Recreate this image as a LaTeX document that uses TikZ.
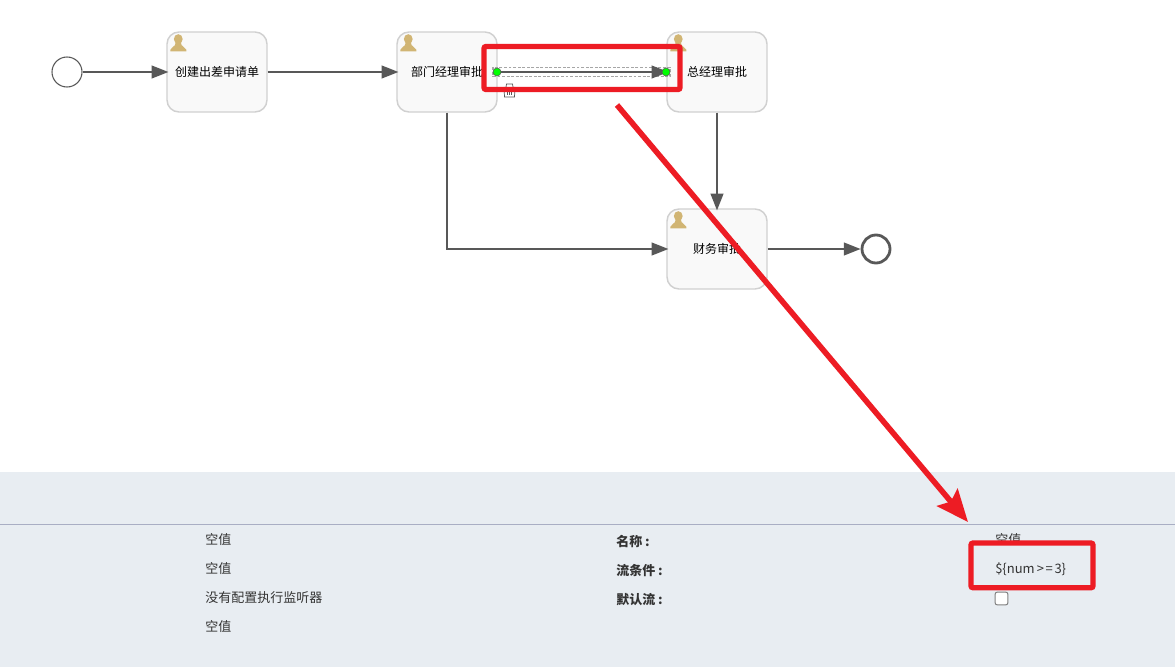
\documentclass[tikz,border=0pt]{standalone}
\usepackage{fontspec}
\setmainfont{Noto Sans CJK SC}
\usetikzlibrary{arrows.meta,calc}
\definecolor{flowgray}{HTML}{585858}
\definecolor{panelbg}{HTML}{E8EDF2}
\definecolor{panelline}{HTML}{A9AEC4}
\definecolor{markred}{HTML}{ED1C24}
\definecolor{iconbrown}{HTML}{D1B574}
\definecolor{taskfill}{HTML}{F9F9F9}
\definecolor{taskline}{HTML}{D0D0D0}
\definecolor{textdark}{HTML}{333333}
\newcommand{\tasktext}[1]{\raisebox{-1.4pt}{#1}}
\tikzset{
  x=0.75pt,y=-0.75pt,
  task/.style={draw=taskline,line width=1.1pt,fill=taskfill,rounded corners=9pt,minimum width=75pt,minimum height=60pt,inner sep=0pt,font=\fontsize{9pt}{11pt}\selectfont,text=black},
  startev/.style={circle,draw=flowgray,line width=0.8pt,fill=white,minimum size=22.5pt,inner sep=0pt},
  endev/.style={circle,draw=flowgray,line width=2.1pt,fill=white,minimum size=21pt,inner sep=0pt},
  flow/.style={draw=flowgray,line width=1.4pt,-{Triangle[length=12.5pt,width=9.5pt]}},
  flowin/.style={flow,shorten >=-1.6pt},
  handle/.style={circle,draw=flowgray,line width=0.4pt,fill=green,minimum size=6pt,inner sep=0pt},
  selbox/.style={draw=black!35,line width=0.9pt,dash pattern=on 2.2pt off 1.2pt,inner sep=0pt},
  panellabel/.style={anchor=west,inner sep=0pt,font=\fontsize{9.75pt}{11pt}\selectfont,text=textdark},
  boldlabel/.style={panellabel,font=\fontsize{9.75pt}{11pt}\bfseries\selectfont},
  markbox/.style={draw=markred,line width=4pt,rounded corners=1.5pt,inner sep=0pt},
  person/.pic={
    \fill[iconbrown] (0,-4.2) ellipse [x radius=4.4,y radius=4.9];
    \fill[iconbrown] (-8,8) -- (-8,6.5) .. controls (-7,3.5) and (-3,3.8) .. (-2.6,-0.5) -- (2.6,-0.5) .. controls (3,3.8) and (7,3.5) .. (8,6.5) -- (8,8) -- cycle;
  },
}
\begin{document}
\begin{tikzpicture}
\useasboundingbox (0,0) rectangle (1175,667);
\fill[white] (0,0) rectangle (1175,667);
\fill[panelbg] (0,472) rectangle (1175,667);
\draw[panelline,line width=0.75pt] (0,524) -- (1175,524);

\node[startev] (start) at (67,72) {};
\node[task] (t1) at (217,72) {\tasktext{创建出差申请单}};
\node[task] (t2) at (447,72) {\tasktext{部门经理审批}};
\node[task] (t3) at (717,72) {\tasktext{总经理审批}};
\node[task] (t4) at (717,249) {\tasktext{财务审批}};
\node[endev] (end) at (876,249) {};

\foreach \p in {t1,t2,t3,t4}{
  \pic at ($(\p.north west)+(12,12)$) {person};
}

\node[selbox,minimum width=132.75pt,minimum height=6.75pt] (sel) at (581.5,72) {};
\draw[flowin] (start) -- (t1);
\draw[flowin] (t1) -- (t2);
\draw[flowin] (t2) -- (t3);
\draw[flowin] (t3) -- (t4);
\draw[flowin] (t2.south) |- (t4.west);
\draw[flow] (t4) -- (end);
\node[handle] (h1) at (497,72) {};
\node[handle] (h2) at (666,72) {};

% trash icon
\begin{scope}[shift={(509.5,90.5)},draw=flowgray,line width=0.55pt]
  \draw (-6.5,-3.5) -- (6.5,-3.5);
  \draw (-3.5,-3.5) -- (-3,-6.5) -- (3,-6.5) -- (3.5,-3.5);
  \draw (-5.5,-3.5) -- (-5,6.5) -- (5,6.5) -- (5.5,-3.5);
  \draw (-2.2,-1) -- (-2.2,4.5) (0,-1) -- (0,4.5) (2.2,-1) -- (2.2,4.5);
\end{scope}

\node[panellabel] (a1) at (205,540) {空值};
\node[panellabel] (a2) at (205,569) {空值};
\node[panellabel] (a3) at (205,598) {没有配置执行监听器};
\node[panellabel] (a4) at (205,627) {空值};
\node[boldlabel] (b1) at (616,542) {名称 :};
\node[boldlabel] (b2) at (616,571) {流条件 :};
\node[boldlabel] (b3) at (616,600) {默认流 :};
\node[panellabel] (c1) at (995,540) {空值};
\node[panellabel] (c2) at (995,569) {\$\{num\kern1.6pt>\kern1.2pt=\kern1.2pt3\}};
\node[draw=gray,line width=0.75pt,fill=white,rounded corners=1.5pt,minimum size=9.5pt,inner sep=0pt] (chk) at (1001.5,598.5) {};

\node[markbox,minimum width=147pt,minimum height=32.25pt] (m1) at (582,68) {};
\node[markbox,minimum width=91.5pt,minimum height=33.5pt] (m2) at (1032,565.4) {};
\coordinate (r1) at (617,105);
\coordinate (r2) at (968,522);
\draw[markred,line width=4.2pt,-{Stealth[length=24pt,width=20pt,inset=4pt]}] (r1) -- (r2);
\end{tikzpicture}
\end{document}
